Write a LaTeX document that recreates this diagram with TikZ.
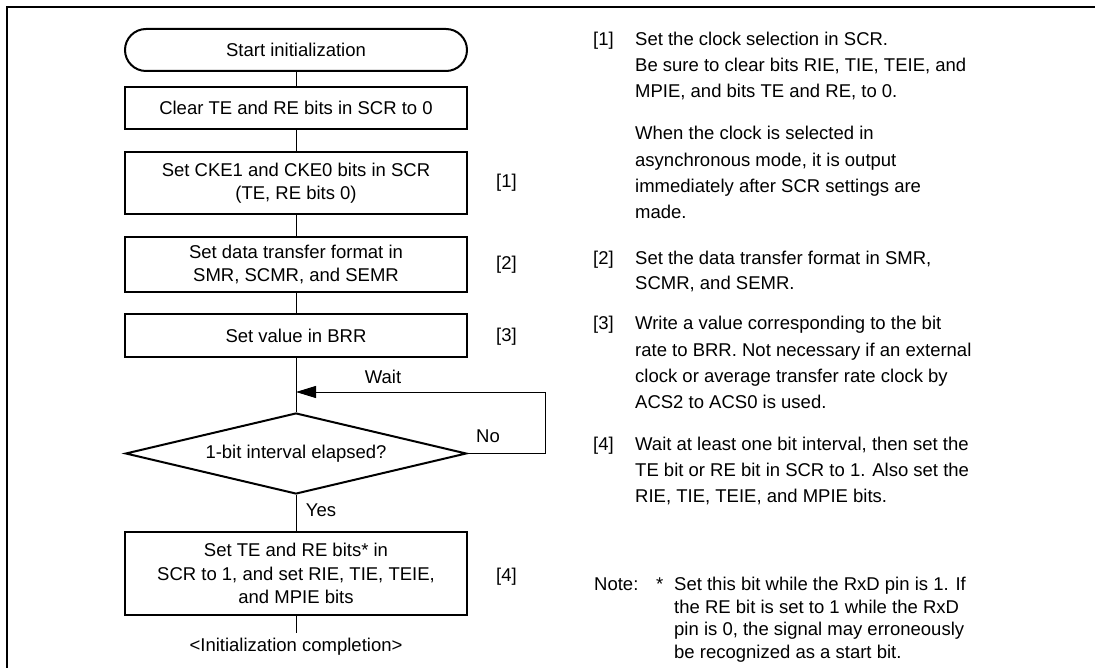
\documentclass[tikz,border=0pt]{standalone}
\usepackage{fontspec}
\setmainfont{Liberation Sans}
\usetikzlibrary{shapes.geometric,arrows.meta}
\begin{document}
\begin{tikzpicture}[x=1pt,y=-1pt,
  every node/.style={font=\fontsize{18.5}{22.5}\selectfont},
  box/.style={draw,line width=2pt,minimum width=342pt,inner sep=0pt,align=center},
  term/.style={box,rounded corners=21pt,minimum height=42pt},
  conn/.style={line width=1pt},
  rt/.style={anchor=base west,inner sep=0pt},
  lbl/.style={anchor=west,inner sep=0pt}]
\useasboundingbox (0,0) rectangle (1095,668);
% frame
\draw[line width=1.8pt] (1095,7.3) -- (7.3,7.3) -- (7.3,668);
% flowchart
\node[term] (start) at (296,50) {Start initialization};
\node[box,minimum height=42pt] (clear) at (296,108) {Clear TE and RE bits in SCR to 0};
\node[box,minimum height=62pt] (cke) at (296,183) {Set CKE1 and CKE0 bits in SCR\\(TE, RE bits 0)};
\node[box,minimum height=55pt] (data) at (296,264.5) {Set data transfer format in\\SMR, SCMR, and SEMR};
\node[box,minimum height=43pt] (brr) at (296,335.5) {Set value in BRR};
\node[diamond,draw,line width=2pt,minimum width=341pt,minimum height=81pt,aspect=4.21,inner sep=0pt] (dec) at (296,453.5) {1-bit interval elapsed?};
\node[box,minimum height=83pt,font=\fontsize{18.5}{23.5}\selectfont] (fin) at (296,573.5) {Set TE and RE bits* in\\SCR to 1, and set RIE, TIE, TEIE,\\and MPIE bits};
\node (endtxt) at (296,647) {<Initialization completion>};
\coordinate (join) at (296,392);
\coordinate (loopc) at (545,392);
\coordinate (finend) at (296,633);
\draw[conn] (start) -- (clear);
\draw[conn] (clear) -- (cke);
\draw[conn] (cke) -- (data);
\draw[conn] (data) -- (brr);
\draw[conn] (brr) -- (dec);
\draw[conn,-{Triangle[length=20pt,width=12pt]}] (dec.east) -| (loopc) -- (join);
\draw[conn] (dec) -- (fin);
\draw[conn] (fin) -- (finend);
\node (wait) at (383,377) {Wait};
\node (no) at (488,436) {No};
\node (yes) at (321,510) {Yes};
% step labels
\node[lbl] (s1) at (496,183) {[1]};
\node[lbl] (s2) at (496,265) {[2]};
\node[lbl] (s3) at (496,337) {[3]};
\node[lbl] (s4) at (496,577) {[4]};
% right column
\node[rt] (n1) at (593,46) {[1]};
\node[rt] (t1a) at (635,46) {Set the clock selection in SCR.};
\node[rt] (t1b) at (635,71.6) {Be sure to clear bits RIE, TIE, TEIE, and};
\node[rt] (t1c) at (635,97.3) {MPIE, and bits TE and RE, to 0.};
\node[rt] (t1d) at (635,139.6) {When the clock is selected in};
\node[rt] (t1e) at (635,166.6) {asynchronous mode, it is output};
\node[rt] (t1f) at (635,192.3) {immediately after SCR settings are};
\node[rt] (t1g) at (635,218.6) {made.};
\node[rt] (n2) at (593,265) {[2]};
\node[rt] (t2a) at (635,265) {Set the data transfer format in SMR,};
\node[rt] (t2b) at (635,290) {SCMR, and SEMR.};
\node[rt] (n3) at (593,329.6) {[3]};
\node[rt] (t3a) at (635,329.6) {Write a value corresponding to the bit};
\node[rt] (t3b) at (635,356.6) {rate to BRR. Not necessary if an external};
\node[rt] (t3c) at (635,382.6) {clock or average transfer rate clock by};
\node[rt] (t3d) at (635,408.6) {ACS2 to ACS0 is used.};
\node[rt] (n4) at (593,450.6) {[4]};
\node[rt] (t4a) at (635,450.6) {Wait at least one bit interval, then set the};
\node[rt] (t4b) at (635,476.6) {TE bit or RE bit in SCR to 1. Also set the};
\node[rt] (t4c) at (635,502.6) {RIE, TIE, TEIE, and MPIE bits.};
\node[rt] (note) at (594,590.6) {Note:};
\node[rt] (star) at (656,590.6) {*};
\node[rt] (na) at (674,590.6) {Set this bit while the RxD pin is 1. If};
\node[rt] (nb) at (674,613.3) {the RE bit is set to 1 while the RxD};
\node[rt] (nc) at (674,635.6) {pin is 0, the signal may erroneously};
\node[rt] (nd) at (674,658.3) {be recognized as a start bit.};
\end{tikzpicture}
\end{document}
